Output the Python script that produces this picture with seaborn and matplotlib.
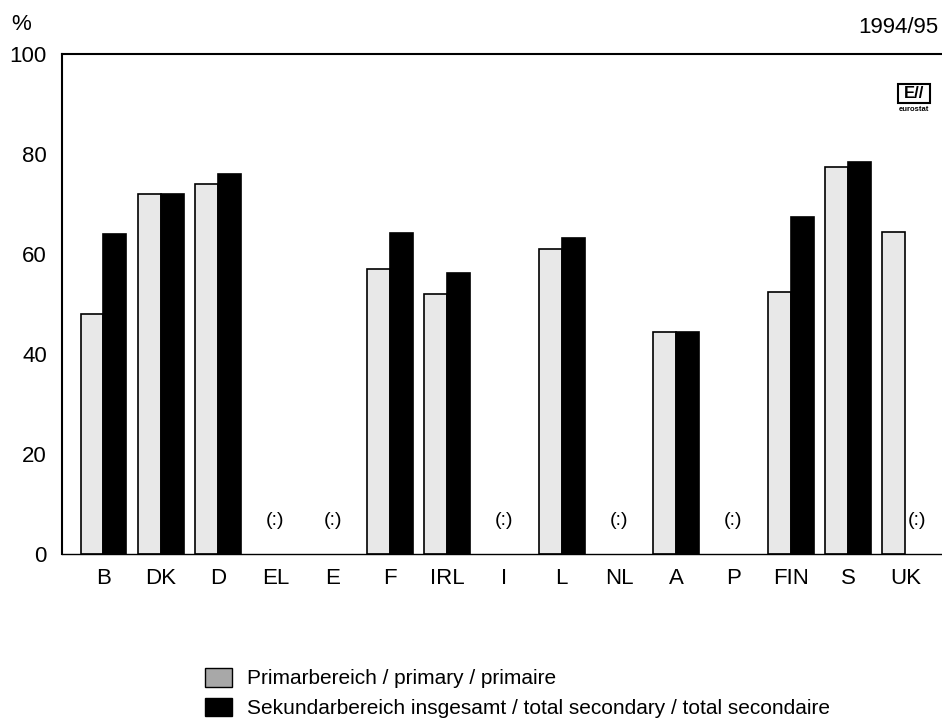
import numpy as np
import pandas as pd
import seaborn as sns
import matplotlib.pyplot as plt
from matplotlib.patches import Patch, Rectangle

# ---------- data ----------
countries = ["B", "DK", "D", "EL", "E", "F", "IRL", "I", "L", "NL", "A", "P", "FIN", "S", "UK"]
primary = [48, 72, 74, np.nan, np.nan, 57, 52, np.nan, 61, np.nan, 44.4, np.nan, 52.4, 77.4, 64.4]
secondary = [64, 72, 76, np.nan, np.nan, 64.3, 56.2, np.nan, 63.2, np.nan, 44.4, np.nan, 67.4, 78.4, np.nan]

lab_prim = "Primarbereich / primary / primaire"
lab_sec = "Sekundarbereich insgesamt / total secondary / total secondaire"

df = pd.DataFrame({
    "Land": countries * 2,
    "Bereich": [lab_prim] * len(countries) + [lab_sec] * len(countries),
    "Wert": primary + secondary,
})

sns.set_style("white", {"text.color": "black", "xtick.color": "black",
                        "ytick.color": "black", "axes.edgecolor": "black"})
plt.rcParams["font.family"] = ["Liberation Sans", "DejaVu Sans"]

fig = plt.figure(figsize=(9.42, 7.22), dpi=100)
ax = fig.add_axes([0.066, 0.233, 0.934, 0.692])

sns.barplot(data=df, x="Land", y="Wert", hue="Bereich", order=countries,
            hue_order=[lab_prim, lab_sec], palette=["#e8e8e8", "#000000"],
            edgecolor="black", linewidth=1.2, width=0.8, ax=ax, legend=False)

ax.set_ylim(0, 100)
ax.set_xlim(-0.72, 14.64)
ax.set_yticks(range(0, 101, 20))
ax.tick_params(axis="y", direction="in", length=7, width=1.5, labelsize=16, pad=11)
ax.tick_params(axis="x", length=0, labelsize=16, pad=10)
ax.set_xlabel("")
ax.set_ylabel("")
ax.spines["right"].set_visible(False)
for s in ["left", "top"]:
    ax.spines[s].set_linewidth(1.5)
ax.spines["bottom"].set_linewidth(1.0)

# fehlende Werte kennzeichnen
for i, (p, s) in enumerate(zip(primary, secondary)):
    if np.isnan(p) and np.isnan(s):
        ax.text(i, 6.6, "(:)", ha="center", va="center", fontsize=14)
    elif np.isnan(s):
        ax.text(i + 0.2, 6.6, "(:)", ha="center", va="center", fontsize=14)

fig.text(0.012, 0.966, "%", fontsize=16, ha="left", va="center")
fig.text(0.996, 0.962, "1994/95", fontsize=16, ha="right", va="center")

# Eurostat-Logo (vereinfacht)
fig.patches.append(Rectangle((0.953, 0.857), 0.034, 0.027, transform=fig.transFigure,
                             fill=False, edgecolor="black", linewidth=1.5))
fig.text(0.970, 0.8705, "E//", fontsize=12, fontweight="bold", ha="center", va="center")
fig.text(0.970, 0.848, "eurostat", fontsize=5.5, fontweight="bold", ha="center", va="center")

handles = [Patch(facecolor="#a8a8a8", edgecolor="black", label=lab_prim),
           Patch(facecolor="black", edgecolor="black", label=lab_sec)]
fig.legend(handles=handles, loc="center left", bbox_to_anchor=(0.198, 0.04),
           frameon=False, fontsize=15, handlelength=1.3, handleheight=1.0,
           labelspacing=0.45, handletextpad=0.7)

fig.savefig("out.png", dpi=100)
